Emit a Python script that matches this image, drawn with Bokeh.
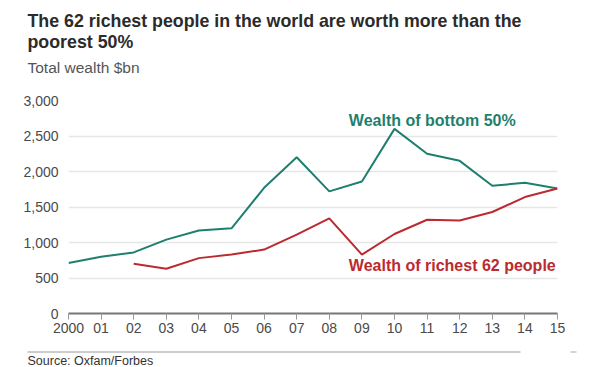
from bokeh.plotting import figure
from bokeh.models import FixedTicker, Range1d
from bokeh.layouts import column
from bokeh.core.properties import value
from bokeh.embed import file_html
from bokeh.resources import INLINE

years = list(range(2000, 2016))
year_labels = ["2000", "01", "02", "03", "04", "05", "06", "07", "08", "09",
               "10", "11", "12", "13", "14", "15"]
bottom50 = [710, 800, 860, 1040, 1170, 1200, 1770, 2200, 1720, 1860,
            2600, 2250, 2150, 1800, 1840, 1760]
rich_years = list(range(2002, 2016))
richest62 = [700, 630, 780, 830, 900, 1110, 1340, 830, 1120, 1320,
             1310, 1430, 1640, 1760]
y_ticks = [0, 500, 1000, 1500, 2000, 2500, 3000]
tick_text = ["0", "500", "1,000", "1,500", "2,000", "2,500", "3,000"]

TEAL = "#1f7f6e"
RED = "#bb2a2f"
FNAME = "Liberation Sans"
FONT = value(FNAME)
W = 603
TOP_H, MAIN_H, BOT_H = 90, 255, 22


def blank(h, y0):
    f = figure(width=W, height=h, output_backend="svg", toolbar_location=None,
               x_range=Range1d(0, W), y_range=Range1d(y0 + h, y0),
               x_axis_type=None, y_axis_type=None, frame_align=False,
               min_border=0, min_border_left=0, min_border_right=0,
               min_border_top=0, min_border_bottom=0)
    f.outline_line_color = None
    f.xgrid.grid_line_color = None
    f.ygrid.grid_line_color = None
    return f


# header
top = blank(TOP_H, 0)
top.text(x=[27, 27], y=[20, 41],
         text=["The 62 richest people in the world are worth more than the", "poorest 50%"],
         text_font=FONT, text_font_size="17.8px", text_font_style="bold",
         text_color="#2b2b2b", text_baseline="middle", text_align="left")
top.text(x=[27], y=[67], text=["Total wealth $bn"], text_font=FONT,
         text_font_size="15.5px", text_color="#555555",
         text_baseline="middle", text_align="left")

# main chart
p = figure(width=W, height=MAIN_H, output_backend="svg", toolbar_location=None,
           x_range=(2000, 2015), y_range=(0, 3000), frame_align=False,
           min_border_left=68, min_border_right=W - 557,
           min_border_top=100 - TOP_H, min_border_bottom=TOP_H + MAIN_H - 313)
p.outline_line_color = None

p.line(years, bottom50, line_color=TEAL, line_width=2)
p.line(rich_years, richest62, line_color=RED, line_width=2)

p.xgrid.grid_line_color = None
p.ygrid.grid_line_color = "#e6e6e6"
p.ygrid.grid_line_width = 1.5
p.ygrid.ticker = FixedTicker(ticks=y_ticks)

xa = p.xaxis[0]
xa.ticker = FixedTicker(ticks=years)
xa.major_label_overrides = {y: l for y, l in zip(years, year_labels)}
xa.axis_line_color = "#777777"
xa.axis_line_width = 2
xa.major_tick_line_color = "#999999"
xa.major_tick_in = 0
xa.major_tick_out = 6
xa.minor_tick_line_color = None
xa.major_label_text_font = FNAME
xa.major_label_text_font_size = "14px"
xa.major_label_text_color = "#4a4a4a"
xa.major_label_standoff = 3

ya = p.yaxis[0]
ya.ticker = FixedTicker(ticks=y_ticks)
ya.major_label_overrides = {t: s for t, s in zip(y_ticks, tick_text)}
ya.axis_line_color = None
ya.major_tick_line_color = None
ya.minor_tick_line_color = None
ya.major_label_text_font = FNAME
ya.major_label_text_font_size = "14px"
ya.major_label_text_color = "#4a4a4a"
ya.major_label_standoff = 4

# series labels placed at data positions
p.text(x=[2008.6], y=[2720], text=["Wealth of bottom 50%"], text_font=FONT,
       text_font_size="16px", text_font_style="bold", text_color=TEAL,
       text_baseline="middle", text_align="left")
p.text(x=[2008.6], y=[680], text=["Wealth of richest 62 people"], text_font=FONT,
       text_font_size="16px", text_font_style="bold", text_color=RED,
       text_baseline="middle", text_align="left")

# footer
bot = blank(BOT_H, TOP_H + MAIN_H)
y_sep = 351.5
bot.segment(x0=[27, 570], y0=[y_sep, y_sep], x1=[520, 576], y1=[y_sep, y_sep],
            line_color=["#999999", "#aaaaaa"], line_width=1)
bot.text(x=[27], y=[360], text=["Source: Oxfam/Forbes"], text_font=FONT,
         text_font_size="12.5px", text_color="#333333",
         text_baseline="middle", text_align="left")

layout = column(top, p, bot, spacing=0)
open("out.html", "w").write(file_html(layout, INLINE))
